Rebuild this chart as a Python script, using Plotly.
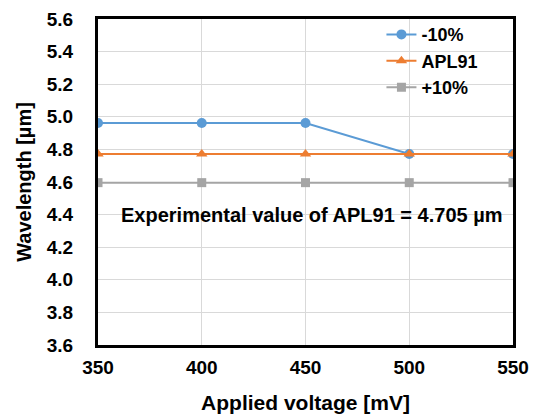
import plotly.graph_objects as go

voltage = [350, 400, 450, 500, 550]
minus10 = [4.962, 4.962, 4.962, 4.772, 4.772]
apl91 = [4.772, 4.772, 4.772, 4.772, 4.772]
plus10 = [4.596, 4.596, 4.596, 4.596, 4.596]
series_names = ["-10%", "APL91", "+10%"]
x_ticks = [350, 400, 450, 500, 550]
y_ticks = [3.6, 3.8, 4.0, 4.2, 4.4, 4.6, 4.8, 5.0, 5.2, 5.4, 5.6]

FONT = "Arial, Liberation Sans, sans-serif"

fig = go.Figure()
fig.add_trace(go.Scatter(x=voltage, y=minus10, name=f"<b>{series_names[0]}</b>", mode="lines+markers",
                         line=dict(color="#5b9bd5", width=2),
                         marker=dict(symbol="circle", size=10, color="#5b9bd5")))
fig.add_trace(go.Scatter(x=voltage, y=apl91, name=f"<b>{series_names[1]}</b>", mode="lines+markers",
                         line=dict(color="#ed7d31", width=2),
                         marker=dict(symbol="triangle-up", size=10, color="#ed7d31")))
fig.add_trace(go.Scatter(x=voltage, y=plus10, name=f"<b>{series_names[2]}</b>", mode="lines+markers",
                         line=dict(color="#a5a5a5", width=2),
                         marker=dict(symbol="square", size=9, color="#a5a5a5")))

fig.add_annotation(x=453, y=4.40, xref="x", yref="y", showarrow=False,
                   text="<b>Experimental value of APL91 = 4.705 µm</b>",
                   font=dict(family=FONT, size=20, color="black"))

fig.update_layout(
    width=529, height=409,
    margin=dict(l=90, r=24, t=11, b=72, autoexpand=False),
    paper_bgcolor="white", plot_bgcolor="white",
    font=dict(family=FONT, color="black"),
    showlegend=True,
    legend=dict(x=0.683, y=0.980, xref="paper", yref="container", xanchor="left", yanchor="top",
                bgcolor="rgba(0,0,0,0)", font=dict(size=18, family=FONT),
                itemwidth=30),
)
fig.update_xaxes(range=[350, 550], tickvals=x_ticks, ticktext=[f"<b>{v}</b>" for v in x_ticks],
                 automargin=False,
                 showgrid=True, gridcolor="#d9d9d9", gridwidth=1,
                 showline=True, linecolor="black", linewidth=3, mirror=True,
                 ticks="", ticklabelstandoff=3,
                 tickfont=dict(size=19, family=FONT),
                 title=dict(text="<b>Applied voltage [mV]</b>", font=dict(size=21, family=FONT), standoff=19),
                 zeroline=False)
fig.update_yaxes(range=[3.6, 5.6], tickvals=y_ticks, ticktext=[f"<b>{v:.1f}</b>" for v in y_ticks],
                 automargin=False,
                 showgrid=True, gridcolor="#d9d9d9", gridwidth=1,
                 showline=True, linecolor="black", linewidth=3, mirror=True,
                 ticks="", ticklabelstandoff=18,
                 tickfont=dict(size=19, family=FONT),
                 title=dict(text="<b>Wavelength [µm]</b>", font=dict(size=20, family=FONT), standoff=10),
                 zeroline=False)

fig.write_html("out.html")
